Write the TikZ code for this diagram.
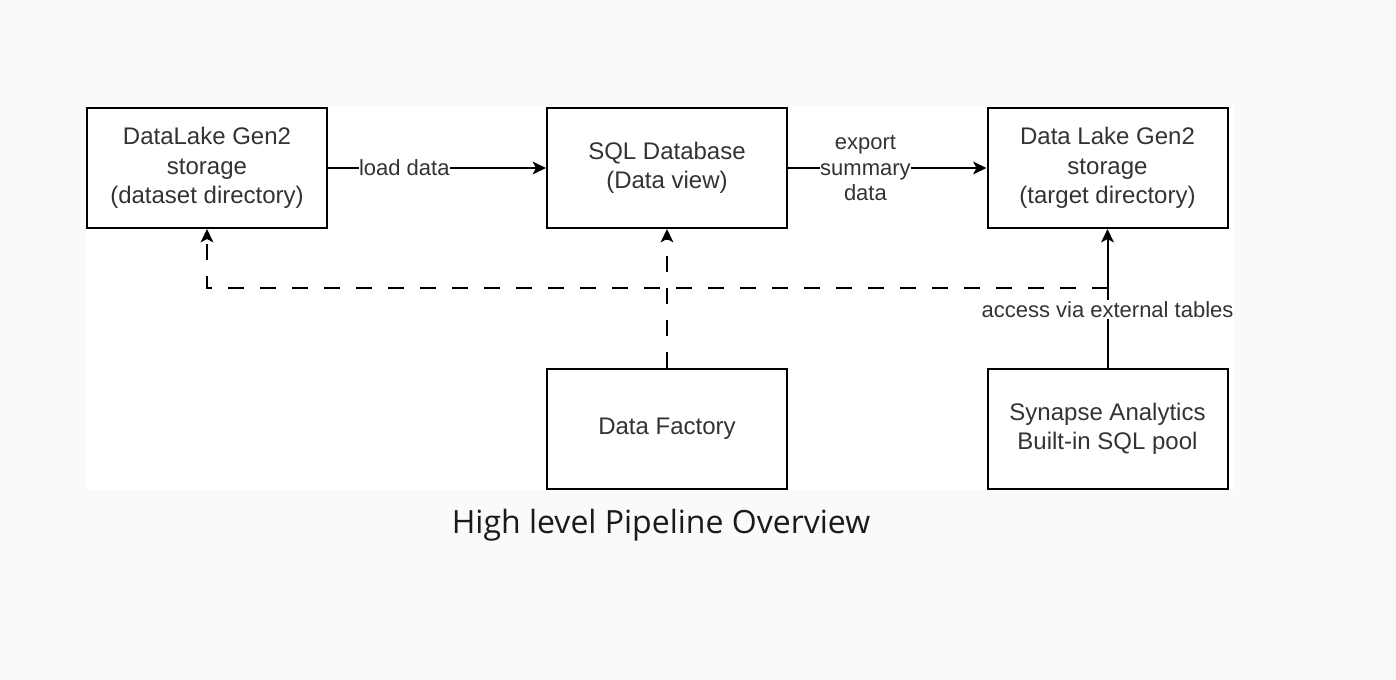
\documentclass[tikz,border=0pt]{standalone}
\usepackage{fontspec}
\setmainfont{Liberation Sans}
\newfontfamily\capfont{Open Sans}
\usetikzlibrary{arrows.meta,positioning}
\definecolor{pagebg}{HTML}{FAFAFA}
\definecolor{txt}{HTML}{333333}
\definecolor{captxt}{HTML}{1A1A1A}
\tikzset{
  box/.style={draw=black, line width=1.5pt, fill=white, minimum width=240*0.75pt, minimum height=120*0.75pt,
    inner sep=0pt, align=center, text=txt, font=\fontsize{18pt}{22pt}\selectfont},
  conn/.style={line width=1.5pt, draw=black, -{Stealth[length=10pt,width=9.5pt,inset=2.5pt]}},
  dashconn/.style={conn, dash pattern=on 12pt off 12pt},
  lbl/.style={fill=white, inner xsep=0.3pt, inner ysep=1pt, text=txt, align=center, font=\fontsize{16.5pt}{19.5pt}\selectfont},
}
\begin{document}
\begin{tikzpicture}[x=0.75pt,y=-0.75pt]
\useasboundingbox (0,0) rectangle (1396,680);
\fill[pagebg] (0,0) rectangle (1396,680);
\fill[white] (87,106) rectangle (1234,490);

\node[box] (b1) at (207,168) {DataLake Gen2\\storage\\(dataset directory)};
\node[box] (b2) at (667,168) {SQL Database\\(Data view)};
\node[box] (b3) at (1107.5,168) {Data Lake Gen2\\storage\\(target directory)};
\node[box] (b4) at (667,429) {Data Factory};
\node[box] (b5) at (1107.5,429) {Synapse Analytics\\Built-in SQL pool};

\coordinate (c1) at (1107.5,288);

\draw[conn] (b1.east) -- node[lbl, pos=0.35] {load data} (b2.west);
\draw[conn] (b2.east) -- node[lbl, pos=0.39] {export\\summary\\data} (b3.west);
\draw[dashconn] (c1) -| (b1.south);
\draw[dashconn] (b4.north) -- (b2.south);
\draw[conn] (b5.north) -- node[lbl, pos=0.42] {access via external tables} (b3.south);

\node[anchor=base, text=captxt, font=\capfont\fontsize{24pt}{29pt}\selectfont, inner sep=0pt] (cap) at (661,534) {High level Pipeline Overview};
\end{tikzpicture}
\end{document}
